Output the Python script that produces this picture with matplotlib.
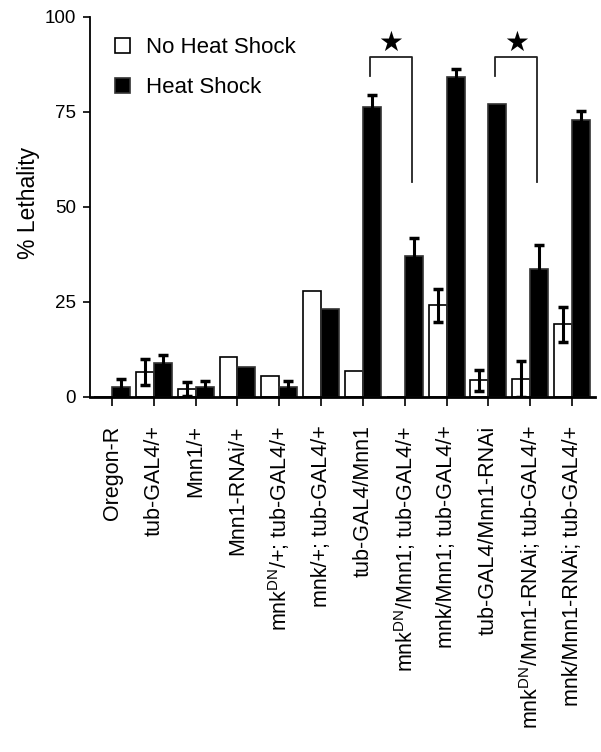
import numpy as np
import matplotlib.pyplot as plt
from matplotlib.patches import Patch

plt.rcParams['font.family'] = ['Liberation Sans', 'DejaVu Sans']
plt.rcParams['mathtext.fontset'] = 'custom'
plt.rcParams['mathtext.rm'] = 'Liberation Sans'

genotypes = ['Oregon-R', 'tub-GAL4/+', 'Mnn1/+', 'Mnn1-RNAi/+',
             'mnk$^{\\rm DN}$/+; tub-GAL4/+', 'mnk/+; tub-GAL4/+',
             'tub-GAL4/Mnn1', 'mnk$^{\\rm DN}$/Mnn1; tub-GAL4/+',
             'mnk/Mnn1; tub-GAL4/+', 'tub-GAL4/Mnn1-RNAi',
             'mnk$^{\\rm DN}$/Mnn1-RNAi; tub-GAL4/+',
             'mnk/Mnn1-RNAi; tub-GAL4/+']

no_hs = [0, 6.5, 2.1, 10.6, 5.5, 27.8, 6.8, 0, 24.1, 4.4, 4.7, 19.1]
no_hs_err = [0, 3.4, 1.8, 0, 0, 0, 0, 0, 4.4, 2.7, 4.8, 4.6]
hs = [2.5, 9.0, 2.5, 8.0, 2.5, 23.1, 76.2, 37.1, 84.2, 77.1, 33.8, 73.0]
hs_err = [2.2, 2.0, 1.8, 0, 1.8, 0, 3.2, 4.7, 2.2, 0, 6.3, 2.3]

# significance brackets: (group left, group right)
sig_pairs = [(6, 7), (9, 10)]

fig = plt.figure(figsize=(6.01, 7.52), dpi=100)
ax = fig.add_axes([0.1498, 0.4721, 0.8403, 0.5053])

index = np.arange(len(genotypes))
bar_width = 0.43

err_kw = dict(ecolor='black', elinewidth=2.2, capthick=2.5, capsize=3.5)

ax.bar(index - bar_width / 2, no_hs, bar_width, color='white',
       edgecolor='black', linewidth=1.2, zorder=2)
ax.bar(index + bar_width / 2, hs, bar_width, color='black',
       edgecolor='#333333', linewidth=1.2, zorder=2)

for i in index:
    if no_hs_err[i] > 0:
        ax.errorbar(i - bar_width / 2, no_hs[i], yerr=no_hs_err[i],
                    fmt='none', zorder=3, **err_kw)
    if hs_err[i] > 0:
        ax.errorbar(i + bar_width / 2, hs[i], yerr=hs_err[i],
                    fmt='none', zorder=3, **err_kw)

for a, b in sig_pairs:
    xl = a + bar_width / 2 - 0.05
    xr = b + bar_width / 2 - 0.05
    ax.plot([xl, xl, xr, xr], [84.5, 89.6, 89.6, 56.7], color='#222222',
            linewidth=1.3, clip_on=False)
    ax.text((xl + xr) / 2, 93.3, '\u2605', ha='center', va='center',
            fontsize=20, family='DejaVu Sans')

ax.set_xlim(-0.526, 11.55)
ax.set_ylim(0, 100)
ax.set_yticks([0, 25, 50, 75, 100])
ax.set_xticks(index)
ax.set_xticklabels(genotypes, rotation=90, fontsize=15.5)
ax.tick_params(axis='x', length=6.5, width=1.2, pad=14)
ax.tick_params(axis='y', length=5, width=1.2, pad=5, labelsize=13.5)

ax.spines['top'].set_visible(False)
ax.spines['right'].set_visible(False)
ax.spines['left'].set_linewidth(1.3)
ax.spines['bottom'].set_linewidth(2)

ax.set_ylabel('% Lethality', fontsize=16.5)
ax.yaxis.set_label_coords(-0.10, 0.51)

handles = [Patch(facecolor='white', edgecolor='black', linewidth=1.2),
           Patch(facecolor='black', edgecolor='#333333', linewidth=1.2)]
ax.legend(handles, ['No Heat Shock', 'Heat Shock'], loc='upper left',
          bbox_to_anchor=(0.05, 0.947), frameon=False, fontsize=16,
          handlelength=0.65, handleheight=0.65, handletextpad=0.75,
          labelspacing=0.85, borderpad=0, borderaxespad=0)

fig.savefig('out.png', dpi=100)
